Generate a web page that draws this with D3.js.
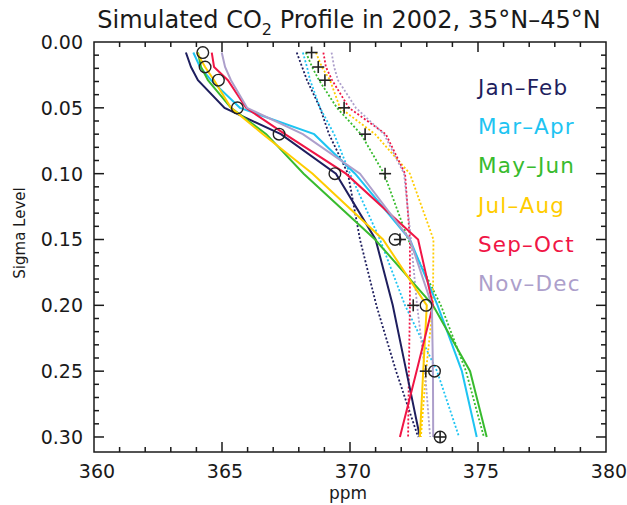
<!DOCTYPE html>
<html>
<head>
<meta charset="utf-8">
<script src="https://cdn.jsdelivr.net/npm/d3@7"></script>
<style>
  html, body { margin: 0; padding: 0; background: #fff; }
  svg { display: block; }
  text { font-family: "DejaVu Sans", sans-serif; fill: #1a1a1a; }
</style>
</head>
<body>
<svg id="chart" width="627" height="505"></svg>
<script>
// ---- data ----
const sigmaLevels = [0.008, 0.019, 0.029, 0.05, 0.07, 0.10, 0.15, 0.20, 0.25, 0.30];
const seasons = ["Jan–Feb", "Mar–Apr", "May–Jun", "Jul–Aug", "Sep–Oct", "Nov–Dec"];
const seasonColors = ["#1e1e5e", "#1ec4f2", "#38bb2e", "#ffcc00", "#f01545", "#ad9fcb"];

// solid profiles (ppm at each sigma level)
const solidJanFeb = [363.59, 363.79, 364.06, 365.10, 367.30, 369.45, 371.00, 371.67, 372.20, 372.73];
const solidMarApr = [363.88, 364.14, 364.57, 365.70, 368.60, 370.20, 372.34, 373.42, 374.37, 374.95];
const solidMayJun = [364.06, 364.18, 364.45, 365.35, 366.73, 368.19, 370.98, 373.24, 374.69, 375.34];
const solidJulAug = [364.02, 364.34, 364.69, 365.35, 366.60, 368.54, 371.29, 373.00, 372.86, 372.73];
const solidSepOct = [364.60, 364.69, 365.23, 365.94, 367.46, 369.84, 372.66, 373.24, 372.60, 371.95];
const solidNovDec = [364.99, 365.12, 365.35, 365.98, 368.16, 370.39, 372.34, 373.20, 373.24, 373.25];

// dotted profiles
const dotJanFeb = [367.92, 368.13, 368.32, 368.83, 369.18, 369.92, 370.39, 371.03, 371.80, 372.66];
const dotMarApr = [368.16, 368.32, 368.44, 368.83, 369.38, 370.00, 371.17, 372.15, 373.40, 374.26];
const dotMayJun = [368.28, 368.52, 368.79, 369.49, 370.43, 371.33, 372.27, 373.55, 374.53, 375.23];
const dotJulAug = [368.67, 368.90, 369.22, 369.61, 370.98, 372.34, 373.26, 373.24, 372.97, 372.77];
const dotSepOct = [368.96, 369.06, 369.30, 369.96, 371.40, 372.15, 372.34, 372.34, 372.30, 372.27];
const dotNovDec = [369.28, 369.38, 369.53, 370.23, 371.33, 372.11, 372.38, 372.62, 372.93, 373.13];

// markers
const circleValues = [364.25, 364.34, 364.86, 365.60, 367.23, 369.41, 371.76, 372.97, 373.30, 373.52];
const plusValues   = [368.50, 368.76, 369.02, 369.77, 370.59, 371.37, 371.95, 372.47, 372.96, 373.52];

const xTicks = [360, 365, 370, 375, 380];
const yTicks = [0.00, 0.05, 0.10, 0.15, 0.20, 0.25, 0.30];

const solidSeries = [solidJanFeb, solidMarApr, solidMayJun, solidJulAug, solidSepOct, solidNovDec];
const dotSeries = [dotJanFeb, dotMarApr, dotMayJun, dotJulAug, dotSepOct, dotNovDec];

// ---- layout ----
const svg = d3.select("#chart");
const L = 94, R = 606, T = 42, B = 452;
const x = d3.scaleLinear().domain([360, 380]).range([L, R]);
const y = d3.scaleLinear().domain([0, 0.3114]).range([T, B]);

const line = d3.line()
  .x(d => x(d[0]))
  .y(d => y(d[1]));

const plot = svg.append("g");
plot.append("clipPath").attr("id", "clip")
  .append("rect").attr("x", L).attr("y", T).attr("width", R - L).attr("height", B - T);

const lines = plot.append("g").attr("clip-path", "url(#clip)");

// dotted lines
dotSeries.forEach((s, i) => {
  lines.append("path")
    .datum(s.map((v, k) => [v, sigmaLevels[k]]))
    .attr("d", line)
    .attr("fill", "none")
    .attr("stroke", seasonColors[i])
    .attr("stroke-width", 1.8)
    .attr("stroke-dasharray", "2,2");
});
// solid lines
solidSeries.forEach((s, i) => {
  lines.append("path")
    .datum(s.map((v, k) => [v, sigmaLevels[k]]))
    .attr("d", line)
    .attr("fill", "none")
    .attr("stroke", seasonColors[i])
    .attr("stroke-width", 2);
});

// circle markers
plot.append("g").selectAll("circle")
  .data(circleValues.map((v, k) => [v, sigmaLevels[k]]))
  .join("circle")
  .attr("cx", d => x(d[0]))
  .attr("cy", d => y(d[1]))
  .attr("r", 5.8)
  .attr("fill", "none")
  .attr("stroke", "#222")
  .attr("stroke-width", 1.4);

// plus markers
const plusG = plot.append("g").attr("stroke", "#222").attr("stroke-width", 1.6);
plusValues.forEach((v, k) => {
  const cx = x(v), cy = y(sigmaLevels[k]), h = 6;
  plusG.append("line").attr("x1", cx - h).attr("x2", cx + h).attr("y1", cy).attr("y2", cy);
  plusG.append("line").attr("x1", cx).attr("x2", cx).attr("y1", cy - h).attr("y2", cy + h);
});

// ---- axes ----
const ax = svg.append("g").attr("stroke", "#1a1a1a").attr("stroke-width", 1.5);
ax.append("rect").attr("x", L).attr("y", T).attr("width", R - L).attr("height", B - T)
  .attr("fill", "none");

const xMinor = d3.range(361, 380, 1);
xMinor.forEach(v => {
  const major = v % 5 === 0;
  const len = major ? 10 : 5;
  ax.append("line").attr("x1", x(v)).attr("x2", x(v)).attr("y1", B).attr("y2", B - len);
  ax.append("line").attr("x1", x(v)).attr("x2", x(v)).attr("y1", T).attr("y2", T + len);
});
const yMinor = d3.range(1, 31).map(k => k / 100);
yMinor.forEach((v, k) => {
  const major = (k + 1) % 5 === 0;
  const len = major ? 10 : 5;
  ax.append("line").attr("x1", L).attr("x2", L + len).attr("y1", y(v)).attr("y2", y(v));
  ax.append("line").attr("x1", R).attr("x2", R - len).attr("y1", y(v)).attr("y2", y(v));
});

// tick labels
svg.append("g").selectAll("text")
  .data(xTicks)
  .join("text")
  .attr("x", d => x(d) + 3)
  .attr("y", 478)
  .attr("text-anchor", "middle")
  .attr("font-size", 19)
  .text(d => d);

svg.append("g").selectAll("text")
  .data(yTicks)
  .join("text")
  .attr("x", 83)
  .attr("y", d => y(d) + 7)
  .attr("text-anchor", "end")
  .attr("font-size", 19)
  .text(d => d.toFixed(2));

// axis titles
svg.append("text")
  .attr("x", 348).attr("y", 499)
  .attr("text-anchor", "middle")
  .attr("font-size", 17)
  .text("ppm");

svg.append("text")
  .attr("transform", "translate(25,233) rotate(-90)")
  .attr("text-anchor", "middle")
  .attr("font-size", 15)
  .text("Sigma Level");

// title
const title = svg.append("text")
  .attr("x", 349).attr("y", 28)
  .attr("text-anchor", "middle")
  .attr("font-size", 24);
title.append("tspan").text("Simulated CO");
title.append("tspan").attr("font-size", 16).attr("dy", 7).text("2");
title.append("tspan").attr("dy", -7).text(" Profile in 2002, 35°N–45°N");

// legend
svg.append("g").selectAll("text")
  .data(seasons)
  .join("text")
  .attr("x", 478)
  .attr("y", (d, i) => 95 + i * 39.2)
  .attr("font-size", 21.5)
  .attr("letter-spacing", 1.2)
  .style("fill", (d, i) => seasonColors[i])
  .text(d => d);
</script>
</body>
</html>
